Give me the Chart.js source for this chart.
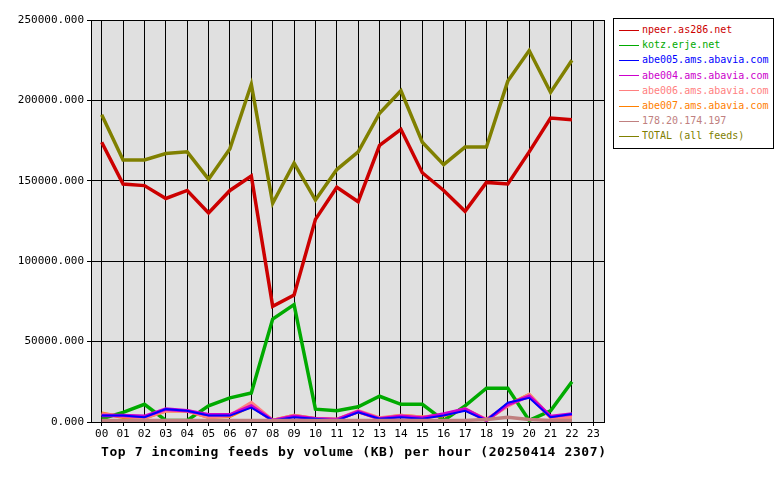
<!DOCTYPE html>
<html><head><meta charset="utf-8">
<script src="https://cdn.jsdelivr.net/npm/chart.js@4"></script>
<style>
body{margin:0;background:#fff;font-family:"DejaVu Sans Mono",monospace}
#wrap{position:relative;width:780px;height:480px}
#leg{position:absolute;left:613px;top:18px;width:159px;border:1px solid #000;padding:3px 0 4px 0;font-size:10px;line-height:15.2px;background:#fff}
#leg div{white-space:nowrap;padding-left:5px}
#leg span.l{display:inline-block;width:20px;height:0;border-top:1px solid;vertical-align:middle;margin-right:3px}
#ttl{position:absolute;left:101px;top:444px;font-size:13px;font-weight:bold;letter-spacing:0.6px;white-space:nowrap}
</style></head><body>
<div id="wrap"><canvas id="c" width="780" height="480"></canvas><div id="leg"></div><div id="ttl"></div></div>
<script>
const hours=["00","01","02","03","04","05","06","07","08","09","10","11","12","13","14","15","16","17","18","19","20","21","22","23"];
const names=["npeer.as286.net","kotz.erje.net","abe005.ams.abavia.com","abe004.ams.abavia.com","abe006.ams.abavia.com","abe007.ams.abavia.com","178.20.174.197","TOTAL (all feeds)"];
const colors=["#cc0000","#00aa00","#0000ff","#cc00cc","#ff8080","#ff8000","#c08080","#808000"];
const titleText="Top 7 incoming feeds by volume (KB) per hour (20250414 2307)";
const npeer=[174000,148000,147000,139000,144000,130000,144000,153000,72000,79000,126000,146000,137000,172000,182000,155000,144000,131000,149000,148000,168000,189000,188000];
const kotz=[2000,6000,11000,1000,1000,10000,15000,18000,64000,73000,8000,7000,9500,16000,11000,11000,1000,10000,21000,21000,1000,7000,25000];
const abe005=[4000,4000,3000,8000,7000,4000,4000,9000,1000,3000,2000,1000,6000,2000,3000,2000,4000,7000,1000,12000,15000,3000,5000];
const abe004=[4000,4000,3500,8000,7000,4500,4500,10000,1000,3500,2000,1500,6500,2000,3500,2500,5000,8000,1000,11000,16000,3500,5000];
const abe006=[5000,3500,2500,7000,7000,3000,4000,12000,1000,4000,2000,1500,7000,2500,4000,3000,4500,8000,1500,10000,17000,3000,3000];
const abe007=[5500,3000,2500,7000,7000,3000,3500,10000,1000,4000,2000,1500,6500,2000,4000,3000,4000,8000,1000,10500,17000,3000,3000];
const ip178=[1000,1000,1000,1000,1000,1000,1000,1000,1000,1000,1000,1000,1000,1000,1000,1000,1000,1000,1500,3000,1500,1000,1000];
const total=[191000,163000,163000,167000,168000,151000,170000,210000,136000,161000,138000,157000,168000,192000,206000,174000,160000,171000,171000,212000,231000,205000,225000];
const series=[npeer,kotz,abe005,abe004,abe006,abe007,ip178,total];
const order=[6,2,3,4,5,1,0,7];
const datasets=order.map(i=>({label:names[i],data:series[i],borderColor:colors[i],backgroundColor:colors[i],borderWidth:i==2?2:3.5,pointRadius:0,tension:0,fill:false}));
const leg=document.getElementById('leg');
names.forEach((n,i)=>{const d=document.createElement('div');d.style.color=colors[i];d.innerHTML='<span class="l" style="border-color:'+colors[i]+'"></span>'+n;leg.appendChild(d);});
document.getElementById('ttl').textContent=titleText;
const bg={id:'bg',beforeDraw(ch){const a=ch.chartArea,c=ch.ctx;c.save();c.fillStyle='#e0e0e0';c.fillRect(a.left,a.top,a.right-a.left,a.bottom-a.top);c.restore();},
afterDraw(ch){const a=ch.chartArea,c=ch.ctx;c.save();c.strokeStyle='#000';c.lineWidth=1;c.strokeRect(a.left+0.5,a.top+0.5,a.right-a.left,a.bottom-a.top);c.restore();}};
Chart.defaults.font.family='"DejaVu Sans Mono",monospace';
Chart.defaults.color='#000';
new Chart(document.getElementById('c'),{type:'line',data:{labels:hours,datasets},plugins:[bg],
options:{responsive:false,animation:false,devicePixelRatio:1,layout:{padding:{top:20,right:176,left:0,bottom:0}},
plugins:{legend:{display:false},tooltip:{enabled:false}},
scales:{x:{offset:true,grid:{offset:false,color:'#000',drawTicks:true,tickLength:4},border:{color:'#000'},ticks:{font:{size:11},maxRotation:0,autoSkip:false,padding:2},
afterFit(s){s.height=58;}},
y:{min:0,max:250000,grid:{color:'#000',tickLength:4},border:{color:'#000'},ticks:{stepSize:50000,font:{size:11},callback:v=>v.toFixed(3)},afterFit(s){s.width=91;}}}}});
</script></body></html>
